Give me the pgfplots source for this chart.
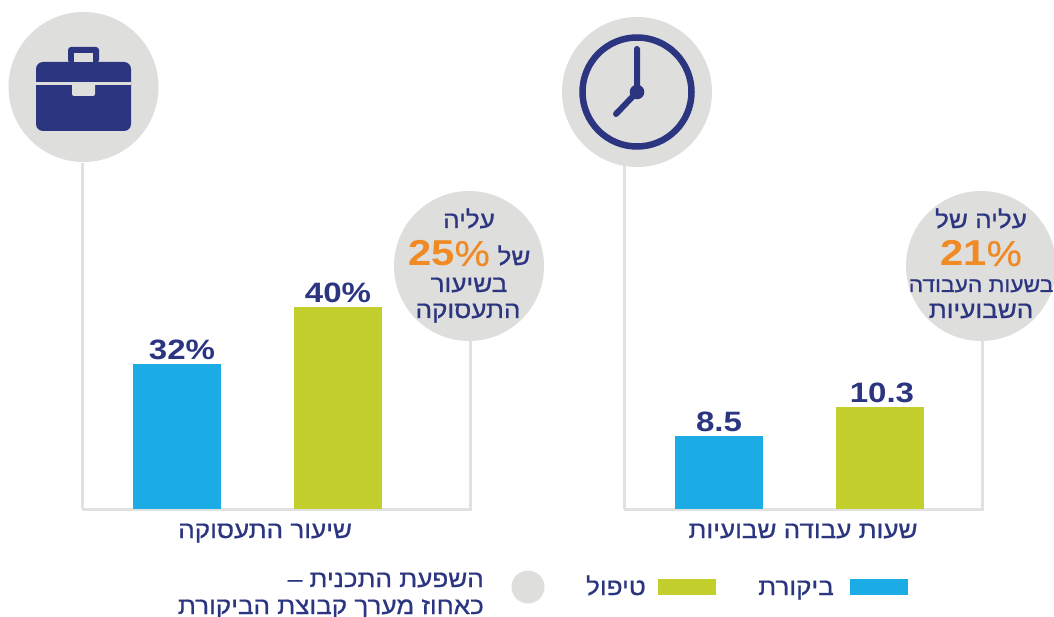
\documentclass[border=0pt]{standalone}
\usepackage{fontspec}
\usepackage{pgfplots}
\pgfplotsset{compat=1.18}
\TeXXeTstate=1
\setmainfont{Liberation Sans}
\newfontfamily\heb[Script=Hebrew,FakeBold=0.8,FakeStretch=1.085]{Liberation Sans}
\newfontfamily\num[FakeStretch=1.18]{Liberation Sans Bold}
\newfontfamily\bignum[FakeStretch=1.16]{Liberation Sans Bold}
\newfontfamily\bigpct[FakeBold=0.4,FakeStretch=1.1]{Liberation Sans}
\definecolor{navy}{HTML}{2B3580}
\definecolor{barblue}{HTML}{1BACE5}
\definecolor{bargreen}{HTML}{C3CF2D}
\definecolor{orng}{HTML}{F08A24}
\definecolor{disc}{HTML}{DEDEDC}
\definecolor{spine}{HTML}{E1E1E1}
\newcommand\hb[1]{\fontsize{#1}{#1}\heb\selectfont\color{navy}}
\newcommand\bigval[1]{\fontsize{36}{36}\bignum\selectfont #1\bigpct\selectfont\%}
\pgfplotsset{
  panel/.style={
    scale only axis,height=346pt,
    /pgf/number format/assume math mode=true,
    axis x line=bottom,axis y line=left,
    axis line style={draw=spine,line width=3pt,-},
    xtick=\empty,ytick=\empty,
    ybar,bar width=88pt,
    clip=false,
    every axis plot/.append style={bar shift=0pt,draw=none},
    nodes near coords style={font=\fontsize{28}{28}\num\selectfont,text=navy,inner sep=0pt,yshift=4pt},
    every axis x label/.style={at={(axis description cs:#1,0)},anchor=base,yshift=-29pt,inner sep=0pt},
  }
}
\begin{document}
\begin{tikzpicture}
\useasboundingbox (0,0) rectangle (1054pt,-617pt);
\clip (0,0) rectangle (1054pt,-617pt);

% employment rate
\begin{axis}[panel=0.472,at={(82pt,-509pt)},anchor=south west,width=388pt,
    xmin=-0.59,xmax=1.82,ymin=11.65,ymax=60.21,
    xlabel={\hb{24}\beginR שיעור התעסוקה\endR},
    nodes near coords={\pgfmathprintnumber{\pgfplotspointmeta}\%}]
  \addplot[fill=barblue,nodes near coords style={xshift=5pt}] coordinates {(0,32)};
  \addplot[fill=bargreen] coordinates {(1,40)};
\end{axis}

% weekly hours
\begin{axis}[panel=0.5,at={(624pt,-509pt)},anchor=south west,width=358pt,
    xmin=-0.59,xmax=1.634,ymin=3.965,ymax=25.455,
    xlabel={\hb{24}\beginR שעות עבודה שבועיות\endR},
    nodes near coords={\pgfmathprintnumber[fixed,precision=1,fixed zerofill]{\pgfplotspointmeta}}]
  \addplot[fill=barblue] coordinates {(0,8.5)};
  \addplot[fill=bargreen,nodes near coords style={xshift=2pt}] coordinates {(1,10.3)};
\end{axis}

\begin{scope}[x=1pt,y=-1pt]
  % right ends of the frames
  \draw[spine,line width=3pt] (470,340) -- (470,510.5);
  \draw[spine,line width=3pt] (982,340) -- (982,510.5);

  % briefcase
  \fill[disc] (83.5,87) circle (75);
  \fill[navy,even odd rule,rounded corners=3pt] (68,63) -- (68,47) -- (99,47) -- (99,63) -- cycle
     (74,63) -- (74,53) -- (93,53) -- (93,63) -- cycle;
  \fill[navy,rounded corners=7pt] (36,62) rectangle (131,131);
  \fill[disc] (36,82) rectangle (131,85);
  \fill[disc,rounded corners=2pt] (72,83) rectangle (95,96);
  \fill[disc] (74,53) rectangle (93,62);

  % clock
  \fill[disc] (637,92) circle (75);
  \draw[navy,line width=6.5pt] (637,92) circle (54.5);
  \draw[navy,line width=6pt,line cap=round] (637,49) -- (637,92) -- (616,114);
  \fill[navy] (637,92) circle (7.3);

  % callouts
  \fill[disc] (469,266) circle (75);
  \fill[disc] (981,266) circle (75);
  \node[anchor=base,inner sep=0pt] at (469,228) {\hb{24}\beginR עליה\endR};
  \node[anchor=base,inner sep=0pt] at (514,265) {\hb{24}\beginR של\endR};
  \node[anchor=base,inner sep=0pt,text=orng] at (449,266) {\bigval{25}};
  \node[anchor=base,inner sep=0pt] at (469,292) {\hb{24}\beginR בשיעור\endR};
  \node[anchor=base,inner sep=0pt] at (468,318) {\hb{24}\beginR התעסוקה\endR};
  \node[anchor=base,inner sep=0pt] at (981,228) {\hb{24}\beginR עליה של\endR};
  \node[anchor=base,inner sep=0pt,text=orng] at (981,266) {\bigval{21}};
  \node[anchor=base,inner sep=0pt] at (981,292) {\hb{21}\beginR בשעות העבודה\endR};
  \node[anchor=base,inner sep=0pt] at (981,318) {\hb{24}\beginR השבועיות\endR};

  % key
  \fill[barblue] (850,579) rectangle (908,595);
  \node[anchor=base east,inner sep=0pt] at (834,595) {\hb{24}\beginR ביקורת\endR};
  \fill[bargreen] (658,579) rectangle (716,595);
  \node[anchor=base east,inner sep=0pt] at (646,595) {\hb{24}\beginR טיפול\endR};
  \fill[disc] (528,587) circle (16.5);
  \node[anchor=base east,inner sep=0pt] at (484,587) {\hb{24}\beginR השפעת התכנית –\endR};
  \node[anchor=base east,inner sep=0pt] at (484,614) {\hb{24}\beginR כאחוז מערך קבוצת הביקורת\endR};
\end{scope}
\end{tikzpicture}
\end{document}
